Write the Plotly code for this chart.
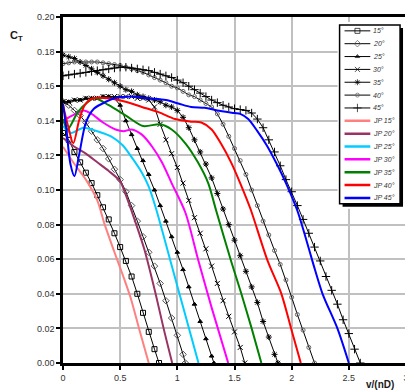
import plotly.graph_objects as go

# ---------------- data ----------------
# experimental series: CT sampled every 0.05 in v/(nD), plus end point
CT15 = [0.133,0.129,0.122,0.116,0.110,0.104,0.097,0.090,0.083,0.075,0.067,0.059,0.050,0.040,0.029,0.018,0.008,0.0]
END15 = 0.84
CT20 = [0.151,0.149,0.146,0.143,0.139,0.134,0.129,0.124,0.118,0.112,0.106,0.099,0.091,0.082,0.073,0.064,0.056,0.046,0.036,0.026,0.016,0.005,0.0]
END20 = 1.07
CT25 = [0.151,0.151,0.152,0.152,0.153,0.153,0.153,0.154,0.154,0.153,0.149,0.140,0.132,0.124,0.117,0.109,0.100,0.091,0.082,0.073,0.064,0.054,0.044,0.034,0.024,0.014,0.004,0.0]
END25 = 1.32
CT30 = [0.151,0.151,0.152,0.152,0.153,0.153,0.153,0.154,0.154,0.154,0.154,0.154,0.154,0.153,0.153,0.152,0.148,0.138,0.129,0.121,0.113,0.104,0.094,0.084,0.075,0.066,0.056,0.046,0.036,0.027,0.018,0.009,0.0]
END30 = 1.59
CT35 = [0.178,0.177,0.176,0.174,0.172,0.170,0.168,0.166,0.164,0.162,0.160,0.158,0.157,0.155,0.154,0.153,0.152,0.151,0.149,0.148,0.146,0.142,0.136,0.129,0.122,0.115,0.107,0.098,0.089,0.080,0.071,0.062,0.053,0.044,0.035,0.024,0.015,0.005,0.0]
END35 = 1.88
CT40 = [0.173,0.1735,0.174,0.174,0.174,0.174,0.174,0.1735,0.173,0.1725,0.172,0.171,0.170,0.169,0.168,0.1665,0.165,0.1635,0.162,0.160,0.159,0.157,0.155,0.154,0.152,0.150,0.148,0.144,0.138,0.131,0.124,0.117,0.109,0.100,0.091,0.082,0.074,0.065,0.057,0.048,0.038,0.028,0.019,0.009,0.0]
END40 = 2.20
CT45 = [0.166,0.1665,0.167,0.1675,0.168,0.1685,0.169,0.1695,0.170,0.1705,0.171,0.171,0.1705,0.170,0.1695,0.169,0.168,0.167,0.166,0.165,0.1635,0.162,0.160,0.158,0.156,0.154,0.152,0.1505,0.149,0.148,0.147,0.1465,0.146,0.1445,0.141,0.136,0.129,0.122,0.114,0.106,0.099,0.091,0.083,0.075,0.067,0.059,0.050,0.042,0.034,0.025,0.017,0.008,0.0]
END45 = 2.60

# JP (computed) curves
JP15_V = [0.0, 0.10, 0.20, 0.30, 0.36, 0.447, 0.533, 0.59, 0.665, 0.75]
JP15_C = [0.125, 0.115, 0.106, 0.094, 0.081, 0.0646, 0.049, 0.038, 0.020, 0.0]
JP20_V = [0.0, 0.10, 0.20, 0.30, 0.40, 0.50, 0.55, 0.62, 0.71, 0.81, 0.88, 0.955]
JP20_C = [0.130, 0.125, 0.121, 0.116, 0.111, 0.105, 0.097, 0.084, 0.066, 0.040, 0.020, 0.0]
JP25_V = [0.0, 0.07, 0.18, 0.30, 0.42, 0.52, 0.60, 0.69, 0.75, 0.81, 0.94, 1.06, 1.185]
JP25_C = [0.137, 0.133, 0.136, 0.134, 0.131, 0.126, 0.119, 0.110, 0.102, 0.090, 0.059, 0.030, 0.0]
JP30_V = [0.0, 0.08, 0.18, 0.25, 0.35, 0.46, 0.53, 0.60, 0.69, 0.78, 0.865, 0.95, 1.07, 1.185, 1.30, 1.445]
JP30_C = [0.140, 0.143, 0.146, 0.144, 0.139, 0.135, 0.134, 0.135, 0.132, 0.125, 0.116, 0.104, 0.087, 0.059, 0.032, 0.0]
JP35_V = [0.0, 0.04, 0.13, 0.22, 0.28, 0.40, 0.55, 0.70, 0.85, 0.95, 1.07, 1.18, 1.27, 1.34, 1.47, 1.56, 1.65, 1.735]
JP35_C = [0.141, 0.135, 0.145, 0.151, 0.153, 0.149, 0.143, 0.137, 0.138, 0.135, 0.127, 0.116, 0.104, 0.088, 0.059, 0.040, 0.020, 0.0]
JP40_V = [0.0, 0.04, 0.09, 0.14, 0.19, 0.26, 0.40, 0.548, 0.69, 0.836, 0.98, 1.12, 1.21, 1.30, 1.38, 1.47, 1.556, 1.64, 1.79, 1.91, 1.995, 2.08]
JP40_C = [0.149, 0.138, 0.127, 0.140, 0.149, 0.153, 0.153, 0.151, 0.148, 0.145, 0.141, 0.1395, 0.139, 0.135, 0.127, 0.116, 0.103, 0.089, 0.059, 0.040, 0.020, 0.0]
JP45_V = [0.0, 0.03, 0.065, 0.10, 0.14, 0.20, 0.27, 0.346, 0.45, 0.60, 0.75, 0.90, 1.01, 1.12, 1.24, 1.35, 1.50, 1.55, 1.62, 1.70, 1.78, 1.87, 1.95, 2.05, 2.12, 2.19, 2.27, 2.40, 2.50]
JP45_C = [0.150, 0.135, 0.115, 0.108, 0.120, 0.139, 0.147, 0.150, 0.153, 0.154, 0.153, 0.152, 0.150, 0.148, 0.1475, 0.146, 0.1445, 0.144, 0.141, 0.134, 0.126, 0.115, 0.104, 0.088, 0.073, 0.057, 0.040, 0.020, 0.0]

EXP_NAMES = ["15°", "20°", "25°", "30°", "35°", "40°", "45°"]
JP_NAMES = ["JP 15°", "JP 20°", "JP 25°", "JP 30°", "JP 35°", "JP 40°", "JP 45°"]
X_TICKS = [0, 0.5, 1, 1.5, 2, 2.5, 3]
X_TICK_LABELS = ["0", "0.5", "1", "1.5", "2", "2.5", "3"]
Y_TICKS = [0.00, 0.02, 0.04, 0.06, 0.08, 0.10, 0.12, 0.14, 0.16, 0.18, 0.20]
Y_TICK_LABELS = ["0.00", "0.02", "0.04", "0.06", "0.08", "0.10", "0.12", "0.14", "0.16", "0.18", "0.20"]

# ---------------- styles ----------------
FONT = "Liberation Sans, Arial, sans-serif"
exp_styles = [
    dict(symbol="square-open", size=5, color="black"),
    dict(symbol="diamond-open", size=5, color="#555555"),
    dict(symbol="triangle-up", size=4, color="black"),
    dict(symbol="x-thin-open", size=5, color="black"),
    dict(symbol="asterisk-open", size=5, color="black"),
    dict(symbol="circle-open", size=4, color="#666666"),
    dict(symbol="cross-thin-open", size=6, color="black"),
]
jp_colors = ["#FF8080", "#993366", "#00CCFF", "#FF00FF", "#008000", "#FF0000", "#0000FF"]


def grid(vals, end):
    n = len(vals) - 1
    xs = [round(0.05 * i, 2) for i in range(n)]
    xs.append(end)
    return xs


exp_data = [(CT15, END15), (CT20, END20), (CT25, END25), (CT30, END30),
            (CT35, END35), (CT40, END40), (CT45, END45)]
jp_data = [(JP15_V, JP15_C), (JP20_V, JP20_C), (JP25_V, JP25_C), (JP30_V, JP30_C),
           (JP35_V, JP35_C), (JP40_V, JP40_C), (JP45_V, JP45_C)]

fig = go.Figure()

for (ct, end), st, name in zip(exp_data, exp_styles, EXP_NAMES):
    fig.add_trace(go.Scatter(
        x=grid(ct, end), y=ct, mode="lines+markers", name=name, showlegend=False,
        line=dict(color="black", width=1),
        marker=dict(symbol=st["symbol"], size=st["size"], color=st["color"],
                    line=dict(color=st["color"], width=1)),
    ))

for (v, c), col, name in zip(jp_data, jp_colors, JP_NAMES):
    fig.add_trace(go.Scatter(
        x=v, y=c, mode="lines", name=name, showlegend=False,
        line=dict(color=col, width=2, shape="spline", smoothing=0.8),
    ))

# ---------------- hand-drawn legend on its own small axes (pixel-like units) ----------------
ROW0, ROWSTEP = 27, 13
for i, (st, name) in enumerate(zip(exp_styles, EXP_NAMES)):
    yy = ROW0 + ROWSTEP * i
    fig.add_trace(go.Scatter(
        x=[347, 360, 373], y=[yy, yy, yy], mode="lines+markers", showlegend=False,
        xaxis="x2", yaxis="y2", hoverinfo="skip",
        line=dict(color="black", width=1),
        marker=dict(symbol=st["symbol"], size=[0, st["size"], 0], color=st["color"],
                    line=dict(color=st["color"], width=1)),
    ))
for j, (col, name) in enumerate(zip(jp_colors, JP_NAMES)):
    yy = ROW0 + ROWSTEP * (j + 7)
    fig.add_trace(go.Scatter(
        x=[347, 373], y=[yy, yy], mode="lines", showlegend=False,
        xaxis="x2", yaxis="y2", hoverinfo="skip",
        line=dict(color=col, width=2.5),
    ))

annotations = []
for k, name in enumerate(EXP_NAMES + JP_NAMES):
    yy = ROW0 + ROWSTEP * k
    annotations.append(dict(
        x=374, y=yy, xref="x2", yref="y2", text="<i>" + name + "</i>", showarrow=False,
        xanchor="left", yanchor="middle", font=dict(family=FONT, size=7, color="#333333"),
    ))

annotations.append(dict(
    x=-0.159, y=0.972, xref="paper", yref="paper", text="<b>C<sub>T</sub></b>",
    showarrow=False, xanchor="left", yanchor="top",
    font=dict(family=FONT, size=11, color="#1a1a1a"),
))
annotations.append(dict(
    x=0.925, y=-0.063, xref="paper", yref="paper", text="<b>v/(nD)</b>",
    showarrow=False, xanchor="center", yanchor="middle",
    font=dict(family=FONT, size=10, color="#1a1a1a"),
))

shapes = [
    dict(type="rect", xref="x2", yref="y2", x0=345, y0=24, x1=406, y1=205,
         fillcolor="black", line=dict(width=0), layer="between"),
    dict(type="rect", xref="x2", yref="y2", x0=342, y0=21, x1=403, y1=202,
         fillcolor="white", line=dict(color="black", width=1.5), layer="between"),
]

# the page adds an 8 px body margin, so the figure is 8 px smaller and shifted
fig.update_layout(
    width=405, height=383,
    margin=dict(l=55, r=4, t=5, b=28),
    paper_bgcolor="white", plot_bgcolor="white",
    font=dict(family=FONT, size=9, color="#333333"),
    showlegend=False,
    xaxis=dict(
        range=[0, 3], tickvals=X_TICKS, ticktext=X_TICK_LABELS,
        showgrid=True, gridcolor="#C0C0C0", gridwidth=1.5,
        showline=True, linecolor="black", linewidth=2.5, mirror=True,
        ticks="outside", ticklen=4, tickwidth=1.5, tickcolor="black",
        zeroline=False, tickfont=dict(size=9, color="#333333"),
    ),
    yaxis=dict(
        range=[0, 0.20], tickvals=Y_TICKS, ticktext=Y_TICK_LABELS,
        showgrid=True, gridcolor="#C0C0C0", gridwidth=1.5,
        showline=True, linecolor="black", linewidth=2.5, mirror=True,
        ticks="outside", ticklen=4, tickwidth=1.5, tickcolor="black",
        zeroline=False, tickfont=dict(size=9, color="#333333"),
    ),
    xaxis2=dict(domain=[0.8006, 1.0], range=[340, 409], anchor="y2", visible=False,
                fixedrange=True),
    yaxis2=dict(domain=[0.4457, 0.9857], range=[207, 18], anchor="x2", visible=False,
                fixedrange=True),
    annotations=annotations,
    shapes=shapes,
)

fig.write_html("out.html")
